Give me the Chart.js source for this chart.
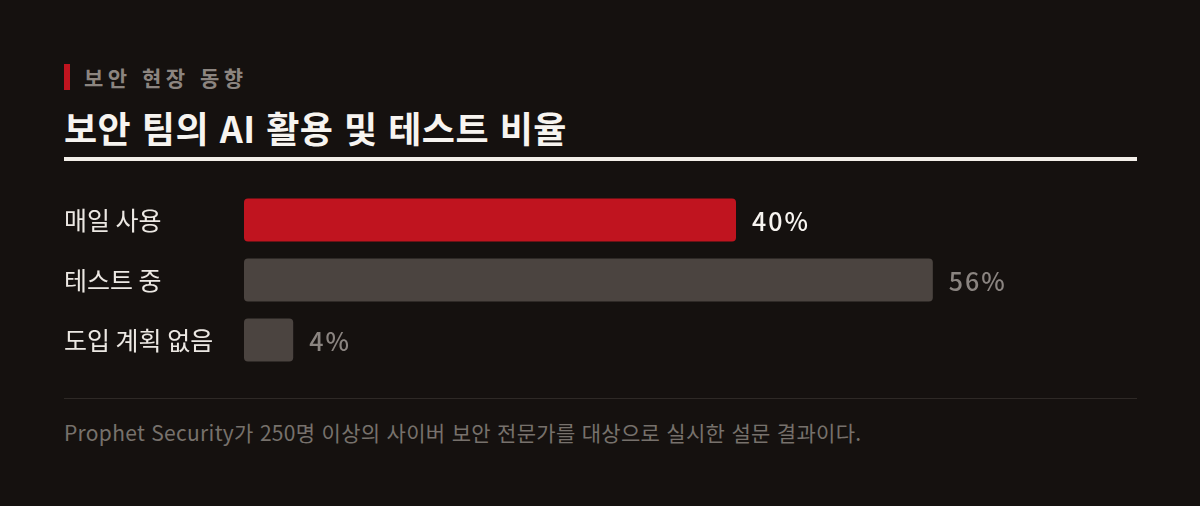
<!DOCTYPE html>
<html lang="ko">
<head>
<meta charset="utf-8">
<script src="https://cdn.jsdelivr.net/npm/chart.js@4"></script>
<style>
  html, body { margin: 0; padding: 0; }
  body {
    width: 1200px; height: 506px; overflow: hidden; position: relative;
    background: #15110f; font-family: "Noto Sans CJK KR", "Noto Sans", sans-serif;
  }
  .tag {
    position: absolute; left: 64px; top: 64px; height: 26px;
    border-left: 6px solid #c0141f; padding-left: 14px;
    color: #8c8580; font-size: 21px; font-weight: 700; letter-spacing: 4.5px; line-height: 26px;
  }
  .title {
    position: absolute; left: 64px; top: 102px;
    color: #f7f4f0; font-size: 36px; font-weight: 700; letter-spacing: 0.5px; line-height: 50px;
  }
  .rule { position: absolute; left: 64px; top: 157px; width: 1073px; height: 4px; background: #f3efe9; }
  .sep { position: absolute; left: 64px; top: 398px; width: 1073px; height: 1px; background: #2e2926; }
  .note {
    position: absolute; left: 64px; top: 417px;
    color: #77716c; font-size: 21px; letter-spacing: 0.3px; line-height: 30px;
  }
  .chart { position: absolute; left: 64px; top: 175px; width: 1073px; height: 210px; }
</style>
</head>
<body>
<div class="tag">보안 현장 동향</div>
<div class="title">보안 팀의 AI 활용 및 테스트 비율</div>
<div class="rule"></div>
<div class="chart"><canvas id="grafico"></canvas></div>
<div class="sep"></div>
<div class="note">Prophet Security가 250명 이상의 사이버 보안 전문가를 대상으로 실시한 설문 결과이다.</div>

<script>
const categorias = ['매일 사용', '테스트 중', '도입 계획 없음'];
const valores = [40, 56, 4];
const coloresBarra = ['#c0141f', '#4b4440', '#4b4440'];
const coloresTexto = ['#f7f4f0', '#8a8480', '#8a8480'];

// etiquetas de valor al final de cada barra
const etiquetasValor = {
    id: 'etiquetasValor',
    afterDatasetsDraw(chart) {
        const ctx = chart.ctx;
        const meta = chart.getDatasetMeta(0);
        ctx.save();
        ctx.font = '500 25px "Noto Sans CJK KR", "Noto Sans", sans-serif';
        ctx.textBaseline = 'middle';
        ctx.textAlign = 'left';
        if ('letterSpacing' in ctx) ctx.letterSpacing = '2px';
        meta.data.forEach((bar, i) => {
            ctx.fillStyle = coloresTexto[i];
            ctx.fillText(valores[i] + '%', bar.x + 16, bar.y + 1);
        });
        ctx.restore();
    }
};

new Chart(document.getElementById('grafico'), {
    type: 'bar',
    data: {
        labels: categorias,
        datasets: [{
            data: valores,
            backgroundColor: coloresBarra,
            borderRadius: 4,
            borderSkipped: false,
            categoryPercentage: 1,
            barPercentage: 43 / 60
        }]
    },
    options: {
        indexAxis: 'y',
        responsive: true,
        maintainAspectRatio: false,
        animation: false,
        devicePixelRatio: 1,
        layout: { padding: 0 },
        plugins: { legend: { display: false }, tooltip: { enabled: false } },
        scales: {
            x: { display: false, min: 0, max: 72.6 },
            y: {
                grid: { display: false },
                border: { display: false },
                afterFit(scale) { scale.width = 180; },
                ticks: {
                    crossAlign: 'far',
                    padding: 0,
                    color: '#ece8e3',
                    font: { family: '"Noto Sans CJK KR", "Noto Sans", sans-serif', size: 25 }
                }
            }
        }
    },
    plugins: [etiquetasValor]
});
</script>
</body>
</html>
